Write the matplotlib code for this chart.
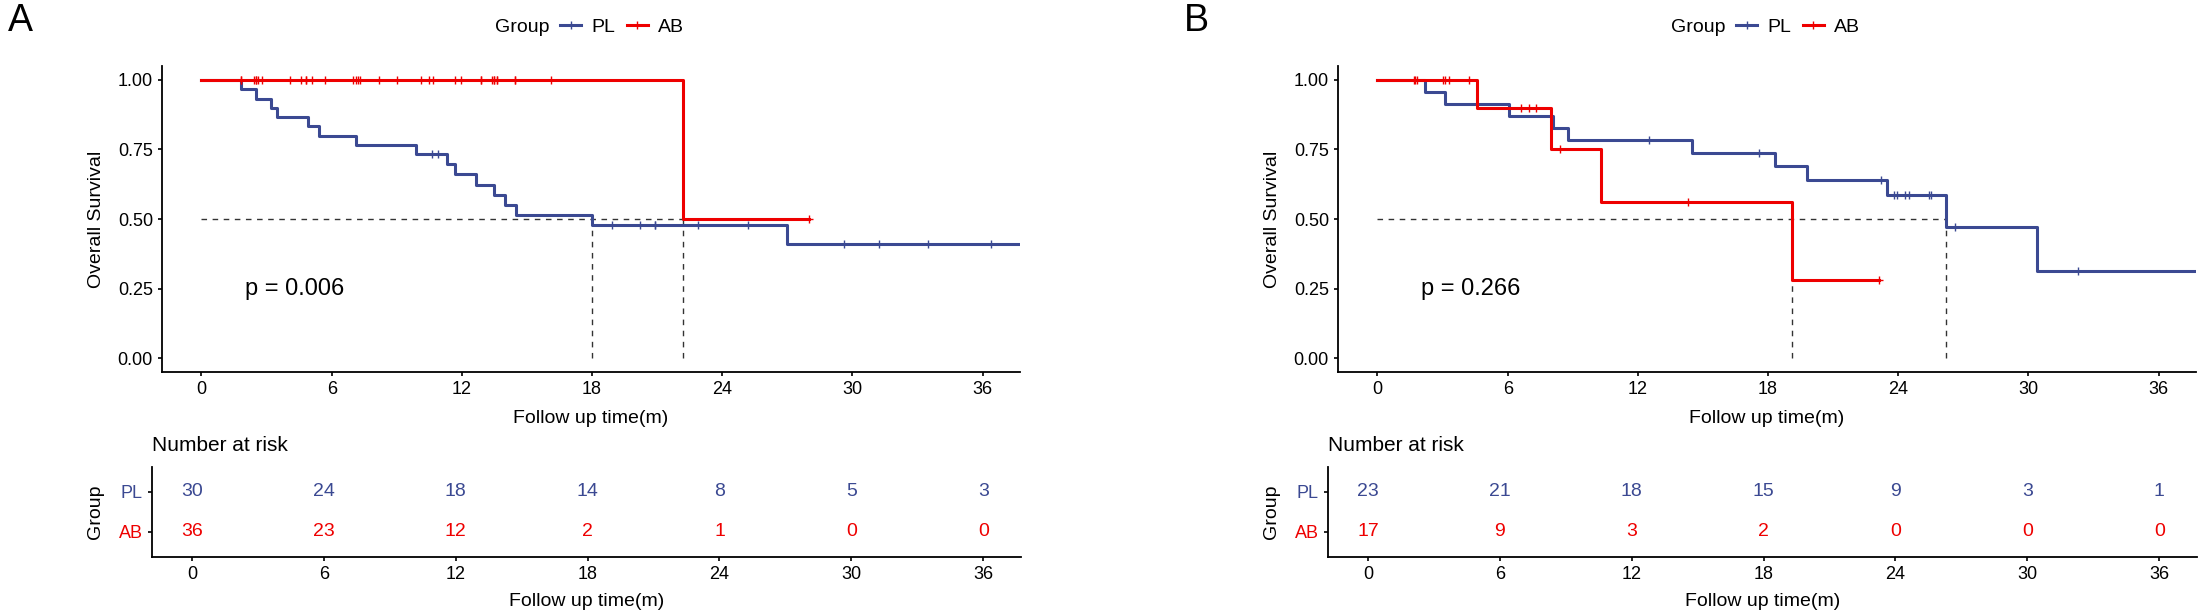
import numpy as np
import matplotlib
matplotlib.use('Agg')
import matplotlib.pyplot as plt
from matplotlib.lines import Line2D

plt.rcParams['font.family'] = ['Liberation Sans', 'DejaVu Sans']

# ---- panel A ----
a_pl_event_t = [1.8, 2.5, 3.2, 3.5, 4.9, 5.4, 7.1, 9.9, 11.3, 11.7, 12.65, 13.5, 14.0, 14.5, 18.0, 27.0]
a_pl_event_s = [0.967, 0.933, 0.900, 0.867, 0.833, 0.800, 0.767, 0.733, 0.697, 0.660, 0.623, 0.587,
                0.550, 0.513, 0.477, 0.409]
a_pl_cens = [10.6, 10.9, 18.9, 20.2, 20.9, 20.9, 22.9, 25.2, 29.6, 31.2, 33.5, 36.4]
a_pl_end = 38.5

a_ab_event_t = [22.2]
a_ab_event_s = [0.5]
a_ab_cens = [1.8, 1.8, 2.4, 2.5, 2.5, 2.6, 2.8, 4.1, 4.6, 4.8, 4.8, 5.1, 5.7,
             7.0, 7.1, 7.2, 7.3, 8.2, 9.0, 10.1, 10.5, 10.65, 11.7, 11.95,
             12.9, 12.9, 13.4, 13.5, 13.5, 13.6, 13.6, 14.45, 14.45, 16.1, 28.0]
a_ab_end = 28.0

a_medians = [18.0, 22.2]
a_pval = 'p = 0.006'
a_risk_pl = [30, 24, 18, 14, 8, 5, 3]
a_risk_ab = [36, 23, 12, 2, 1, 0, 0]

# ---- panel B ----
b_pl_event_t = [2.2, 3.1, 6.05, 8.1, 8.8, 14.5, 18.3, 19.8, 23.5, 26.2, 30.4]
b_pl_event_s = [0.957, 0.913, 0.870, 0.826, 0.783, 0.739, 0.690, 0.640, 0.587, 0.470, 0.313]
b_pl_cens = [12.5, 17.6, 23.2, 23.8, 23.95, 24.3, 24.5, 25.4, 25.5, 26.6, 32.3]
b_pl_end = 38.5

b_ab_event_t = [4.6, 8.0, 10.3, 19.1]
b_ab_event_s = [0.9, 0.75, 0.5625, 0.281]
b_ab_cens = [1.7, 1.75, 1.8, 3.0, 3.1, 3.3, 4.2, 6.6, 7.0, 7.3, 8.4, 14.3, 23.1]
b_ab_end = 23.1

b_medians = [19.1, 26.2]
b_pval = 'p = 0.266'
b_risk_pl = [23, 21, 18, 15, 9, 3, 1]
b_risk_ab = [17, 9, 3, 2, 0, 0, 0]

risk_times = [0, 6, 12, 18, 24, 30, 36]
groups = ['PL', 'AB']
col_pl = '#3B4992'
col_ab = '#EE0000'

W, H = 2206, 612
XLIM = (-1.82, 37.72)


def rect(x0, y_top, x1, y_bot):
    return [x0 / W, 1 - y_bot / H, (x1 - x0) / W, (y_bot - y_top) / H]


def step_xy(event_t, event_s, end_t):
    t = [0] + list(event_t) + [end_t]
    s = [1.0] + list(event_s) + [event_s[-1]]
    return t, s


def surv_at(times, event_t, event_s):
    s = np.array([1.0] + list(event_s))
    idx = np.searchsorted(event_t, times, side='right')
    return s[idx]


def style_axis(ax):
    for side in ['top', 'right']:
        ax.spines[side].set_visible(False)
    for side in ['left', 'bottom']:
        ax.spines[side].set_linewidth(1.3)
    ax.tick_params(length=3, width=1.2, labelsize=13, colors='black')


def draw_panel(fig, off, letter, curves, medians, pval, risk_pl, risk_ab):
    ax = fig.add_axes(rect(162 + off, 66, 1020 + off, 372))
    style_axis(ax)

    # median lines
    ax.plot([0, max(medians)], [0.5, 0.5], ls=(0, (4, 4)), color='#333333', lw=1, zorder=1)
    for m in medians:
        ax.plot([m, m], [0, 0.5], ls=(0, (4, 4)), color='#333333', lw=1, zorder=1)

    for event_t, event_s, cens, end_t, col in curves:
        t, s = step_xy(event_t, event_s, end_t)
        ax.step(t, s, where='post', color=col, lw=2.2, zorder=3, clip_on=True)
        ax.plot(cens, surv_at(cens, event_t, event_s), ls='none', marker='+',
                ms=6, mew=1.0, color=col, zorder=4)

    ax.text(2.0, 0.25, pval, ha='left', va='center', fontsize=17)
    ax.set_xlim(*XLIM)
    ax.set_ylim(-0.05, 1.05)
    ax.set_xticks(risk_times)
    ax.set_yticks([0, 0.25, 0.5, 0.75, 1.0])
    ax.set_yticklabels(['0.00', '0.25', '0.50', '0.75', '1.00'])
    ax.set_xlabel('Follow up time(m)', fontsize=14)
    ax.set_ylabel('Overall Survival', fontsize=14)
    ax.xaxis.set_label_coords(0.5, -0.125)
    ax.yaxis.set_label_coords(-0.066, 0.5)

    # risk table
    tb = fig.add_axes(rect(152 + off, 467, 1021 + off, 557))
    style_axis(tb)
    for x, n in zip(risk_times, risk_pl):
        tb.text(x, 2, str(n), ha='center', va='center', color=col_pl, fontsize=14)
    for x, n in zip(risk_times, risk_ab):
        tb.text(x, 1, str(n), ha='center', va='center', color=col_ab, fontsize=14)
    tb.set_xlim(*XLIM)
    tb.set_ylim(0.375, 2.625)
    tb.set_xticks(risk_times)
    tb.set_yticks([2, 1])
    tb.set_yticklabels(groups, fontsize=13)
    tb.get_yticklabels()[0].set_color(col_pl)
    tb.get_yticklabels()[1].set_color(col_ab)
    tb.set_xlabel('Follow up time(m)', fontsize=14)
    tb.set_ylabel('Group', fontsize=14)
    tb.xaxis.set_label_coords(0.5, -0.40)
    tb.yaxis.set_label_coords(-0.055, 0.5)
    tb.text(0.0, 1.235, 'Number at risk', transform=tb.transAxes, ha='left', va='center', fontsize=15)

    # panel letter and legend
    fig.text((8 + off) / W, 1 - 21 / H, letter, ha='left', va='center', fontsize=27)
    fig.text((549 + off) / W, 1 - 27 / H, 'Group', ha='right', va='center', fontsize=14)
    handles = [Line2D([], [], color=col_pl, lw=2.2, marker='+', ms=6, mew=1.0),
               Line2D([], [], color=col_ab, lw=2.2, marker='+', ms=6, mew=1.0)]
    fig.legend(handles, groups, loc='center left', bbox_to_anchor=((560 + off) / W, 1 - 27 / H),
               ncol=2, frameon=False, fontsize=14, handlelength=1.1, handletextpad=0.5,
               columnspacing=0.6, borderpad=0, borderaxespad=0)


def main():
    fig = plt.figure(figsize=(W / 100, H / 100), dpi=100)
    draw_panel(fig, 0, 'A',
               [(a_pl_event_t, a_pl_event_s, a_pl_cens, a_pl_end, col_pl),
                (a_ab_event_t, a_ab_event_s, a_ab_cens, a_ab_end, col_ab)],
               a_medians, a_pval, a_risk_pl, a_risk_ab)
    draw_panel(fig, 1176, 'B',
               [(b_pl_event_t, b_pl_event_s, b_pl_cens, b_pl_end, col_pl),
                (b_ab_event_t, b_ab_event_s, b_ab_cens, b_ab_end, col_ab)],
               b_medians, b_pval, b_risk_pl, b_risk_ab)
    fig.savefig('out.png', dpi=100)
    plt.close(fig)


if __name__ == '__main__':
    main()
